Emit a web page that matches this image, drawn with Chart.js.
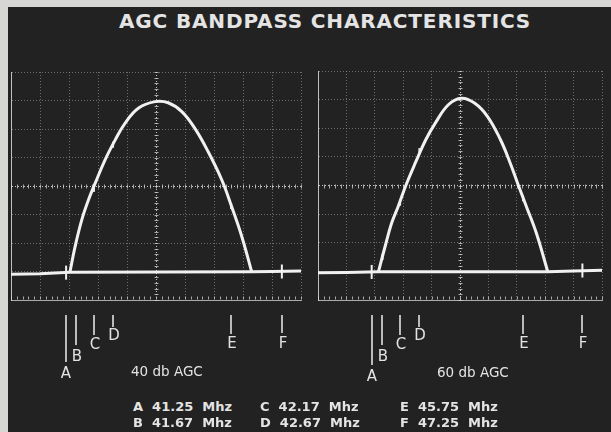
<!DOCTYPE html>
<html>
<head>
<meta charset="utf-8">
<script src="https://cdn.jsdelivr.net/npm/chart.js@4/dist/chart.umd.min.js"></script>
<style>
    body {
        margin: 0;
        width: 611px;
        height: 432px;
        overflow: hidden;
        position: relative;
        background: #d6d6d4;
        font-family: "DejaVu Sans", sans-serif;
        color: #e4e4e4;
    }
    #plate {
        position: absolute;
        left: 8px;
        top: 7px;
        width: 603px;
        height: 425px;
        background: #222222;
    }
    canvas { position: absolute; }
    .title {
        position: absolute;
        left: 119px;
        top: 9px;
        font-weight: bold;
        font-size: 20px;
        letter-spacing: 0.85px;
        white-space: nowrap;
    }
    .agc {
        position: absolute;
        font-size: 13.5px;
        white-space: nowrap;
    }
    .legend {
        position: absolute;
        font-size: 13px;
        font-weight: bold;
        white-space: pre;
    }
</style>
</head>
<body>
<div id="plate"></div>
<div class="title">AGC BANDPASS CHARACTERISTICS</div>
<canvas id="leftScope" width="310" height="335" style="left:0px;top:60px"></canvas>
<canvas id="rightScope" width="305" height="335" style="left:306px;top:60px"></canvas>
<div class="agc" style="left:131px;top:363px">40 db AGC</div>
<div class="agc" style="left:437px;top:364px">60 db AGC</div>
<div id="legend"></div>

<script>
// graticule: 10 x 8 divisions, values read in divisions off the photo
const markerLetters = ["A", "B", "C", "D", "E", "F"];
const markerFreqs = ["41.25", "41.67", "42.17", "42.67", "45.75", "47.25"];

// 40 db AGC trace: flat baseline + passband hump
const leftBaseX = [0, 1.0, 2.03, 8.3, 9.0, 10];
const leftBaseY = [0.9, 0.92, 0.97, 0.99, 1.0, 1.02];
const leftHumpX = [2.03, 2.21, 2.44, 2.67, 2.9, 3.24, 3.59, 3.93, 4.39, 4.97, 5.42, 5.89, 6.34, 6.8, 7.27, 7.61, 7.96, 8.3];
const leftHumpY = [0.97, 1.87, 2.81, 3.51, 4.09, 4.91, 5.61, 6.2, 6.73, 6.96, 6.92, 6.61, 6.02, 5.2, 4.21, 3.27, 2.22, 0.99];
const leftMarkerX = [1.9, 2.24, 2.86, 3.52, 7.59, 9.34];
const leftMarkerY = [0.96, 2.0, 3.9, 5.45, 3.3, 1.0];

// 60 db AGC trace
const rightBaseX = [0, 1.0, 2.13, 8.09, 9.0, 10];
const rightBaseY = [0.95, 0.96, 0.99, 0.99, 1.01, 1.04];
const rightHumpX = [2.13, 2.36, 2.59, 2.82, 3.1, 3.45, 3.79, 4.13, 4.59, 5.05, 5.51, 5.97, 6.43, 6.77, 7.05, 7.34, 7.69, 8.09];
const rightHumpY = [0.99, 1.86, 2.68, 3.26, 4.02, 4.84, 5.59, 6.18, 6.82, 7.05, 6.88, 6.41, 5.59, 4.78, 4.02, 3.26, 2.33, 0.99];
const rightMarkerX = [1.89, 2.27, 2.89, 3.57, 7.22, 9.31];
const rightMarkerY = [0.98, 1.5, 3.4, 5.2, 3.55, 1.03];

// pixel offsets below the graticule for the marker strokes and letters
const markerLineEnd = [62, 45, 35, 27, 34, 33];
const markerLetterY = [74, 57, 45, 36, 44, 44];

// legend text built from the marker arrays
var legendBox = document.getElementById("legend");
var legendCols = [133, 260, 400];
markerLetters.forEach((letter, i) => {
    var div = document.createElement("div");
    div.className = "legend";
    div.style.left = legendCols[Math.floor(i / 2)] + "px";
    div.style.top = (i % 2 === 0 ? 399 : 415) + "px";
    div.textContent = letter + "  " + markerFreqs[i] + "  Mhz";
    legendBox.appendChild(div);
});

function toPoints(xs, ys) {
    return xs.map((x, i) => ({ x: x, y: ys[i] }));
}

// small ticks on the centre lines, like the scope graticule
const graticulePlugin = {
    id: "graticule",
    beforeDatasetsDraw(chart) {
        const { ctx, scales } = chart;
        const x = scales.x, y = scales.y;
        const cy = Math.round(y.getPixelForValue(4)) + 0.5;
        const cx = Math.round(x.getPixelForValue(5)) + 0.5;
        const by = Math.round(y.getPixelForValue(0)) - 0.5;
        ctx.save();
        ctx.strokeStyle = "rgba(215,215,215,0.75)";
        ctx.lineWidth = 1;
        ctx.beginPath();
        for (let i = 0; i <= 50; i++) {
            const px = Math.round(x.getPixelForValue(i / 5)) + 0.5;
            ctx.moveTo(px, cy - 2);
            ctx.lineTo(px, cy + 2);
            ctx.moveTo(px, by - 3);
            ctx.lineTo(px, by);
        }
        for (let i = 0; i <= 40; i++) {
            const py = Math.round(y.getPixelForValue(i / 5)) + 0.5;
            ctx.moveTo(cx - 2, py);
            ctx.lineTo(cx + 2, py);
        }
        ctx.stroke();
        ctx.restore();
    },
};

// frequency marker strokes and letters under the graticule
const markerPlugin = {
    id: "markers",
    afterDraw(chart, args, opts) {
        const { ctx, scales } = chart;
        const bottom = scales.y.getPixelForValue(0);
        ctx.save();
        ctx.strokeStyle = "#e2e2e2";
        ctx.fillStyle = "#e2e2e2";
        ctx.lineWidth = 1.6;
        ctx.font = '15px "DejaVu Sans"';
        ctx.textAlign = "center";
        ctx.textBaseline = "middle";
        opts.positions.forEach((v, i) => {
            const px = Math.round(scales.x.getPixelForValue(v));
            const extra = opts.extraA && i === 0 ? 3 : 0;
            ctx.beginPath();
            ctx.moveTo(px, bottom + 15);
            ctx.lineTo(px, bottom + markerLineEnd[i] + extra);
            ctx.stroke();
            ctx.fillText(markerLetters[i], px + (i === 0 ? 0 : 1), bottom + markerLetterY[i] + extra);
        });
        ctx.restore();
    },
};

function makeScope(id, baseX, baseY, humpX, humpY, markX, markY, pad, extraA) {
    const gridColor = (c) => (c.tick && c.tick.value === (c.scale.axis === "x" ? 5 : 4))
        ? "rgba(225,225,225,0.85)"
        : "rgba(170,170,170,0.55)";
    const trace = {
        borderColor: "#f1f1f1",
        borderWidth: 3,
        pointRadius: 0,
        tension: 0.4,
    };
    return new Chart(document.getElementById(id), {
        type: "line",
        data: {
            datasets: [
                Object.assign({ data: toPoints(baseX, baseY) }, trace, { tension: 0 }),
                Object.assign({ data: toPoints(humpX, humpY) }, trace),
                {
                    data: toPoints(markX, markY),
                    showLine: false,
                    pointStyle: "line",
                    rotation: 90,
                    radius: [7, 3, 3, 3, 3, 7],
                    borderColor: "#f1f1f1",
                    borderWidth: 2,
                },
            ],
        },
        options: {
            responsive: false,
            animation: false,
            devicePixelRatio: 1,
            layout: { padding: pad },
            scales: {
                x: {
                    type: "linear",
                    min: 0,
                    max: 10,
                    ticks: { display: false, stepSize: 1 },
                    grid: { color: gridColor, lineWidth: 1, drawTicks: false },
                    border: { display: true, color: "rgba(200,200,200,0.8)", dash: [1, 2] },
                },
                y: {
                    min: 0,
                    max: 8,
                    ticks: { display: false, stepSize: 1 },
                    grid: { color: gridColor, lineWidth: 1, drawTicks: false },
                    border: { display: true, color: "rgba(215,215,215,0.85)", dash: [1, 2] },
                },
            },
            plugins: {
                legend: { display: false },
                tooltip: { enabled: false },
                markers: { positions: markX, extraA: extraA },
            },
        },
        plugins: [graticulePlugin, markerPlugin],
    });
}

makeScope("leftScope", leftBaseX, leftBaseY, leftHumpX, leftHumpY, leftMarkerX, leftMarkerY,
    { left: 11, right: 9, top: 12, bottom: 95 }, false);
makeScope("rightScope", rightBaseX, rightBaseY, rightHumpX, rightHumpY, rightMarkerX, rightMarkerY,
    { left: 12, right: 2, top: 11, bottom: 95 }, true);
</script>
</body>
</html>
